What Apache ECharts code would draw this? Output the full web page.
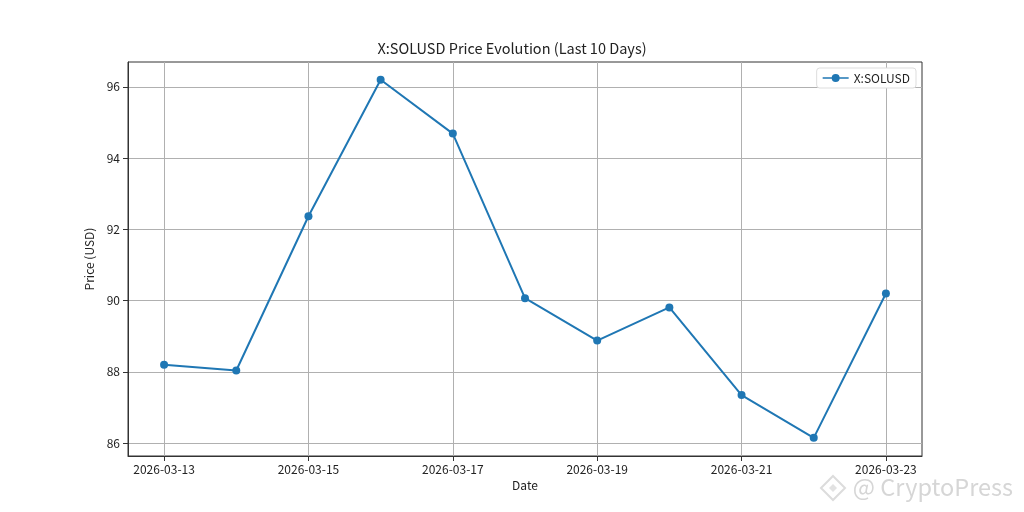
<!DOCTYPE html>
<html>
<head>
<meta charset="utf-8">
<script src="https://cdn.jsdelivr.net/npm/echarts@6/dist/echarts.min.js"></script>
<style>html,body{margin:0;padding:0;background:#fff}#c{width:1024px;height:512px}</style>
</head>
<body>
<div id="c"></div>
<script>
var dates = ['2026-03-13','2026-03-14','2026-03-15','2026-03-16','2026-03-17','2026-03-18','2026-03-19','2026-03-20','2026-03-21','2026-03-22','2026-03-23'];
var prices = [88.20, 88.04, 92.37, 96.20, 94.69, 90.07, 88.88, 89.81, 87.35, 86.15, 90.20];
var xTickDates = ['2026-03-13','2026-03-15','2026-03-17','2026-03-19','2026-03-21','2026-03-23'];
var yTicks = [86, 88, 90, 92, 94, 96];
var seriesName = 'X:SOLUSD';
var titleText = 'X:SOLUSD Price Evolution (Last 10 Days)';
var watermark = '@ CryptoPress';

var FONT = '"Noto Sans CJK SC", "Noto Sans", sans-serif';
var xTickIdx = xTickDates.map(function(d){ return dates.indexOf(d); });
var chart = echarts.init(document.getElementById('c'), null, {renderer:'canvas'});
chart.setOption({
  animation: false,
  backgroundColor: '#fff',
  textStyle: {fontFamily: FONT},
  title: {
    text: titleText, left: 'center', top: 36,
    textStyle: {fontFamily: FONT, fontSize: 14.5, fontWeight: 'normal', color: '#222'}
  },
  legend: {
    right: 108, top: 68, orient: 'vertical',
    backgroundColor: '#fff', borderColor: '#ddd', borderWidth: 1, borderRadius: 3,
    padding: [4, 6, 4, 6],
    itemWidth: 26, itemHeight: 8, itemGap: 6,
    textStyle: {fontFamily: FONT, fontSize: 12, color: '#222'},
    data: [{name: seriesName, icon: 'path://M0,3.2 L26,3.2 L26,4.8 L0,4.8 Z M17,4 A4,4 0 1 1 9,4 A4,4 0 1 1 17,4 Z'}]
  },
  grid: {left: 128, top: 62, right: 102, bottom: 56, show: true, borderColor: '#333', borderWidth: 1, backgroundColor: 'transparent'},
  xAxis: {
    type: 'value', min: -0.5, max: dates.length - 0.5,
    name: 'Date', nameLocation: 'middle', nameGap: 23,
    nameTextStyle: {fontFamily: FONT, fontSize: 12, color: '#222'},
    axisLine: {show: true, onZero: false, lineStyle: {color: '#333', width: 1}},
    axisTick: {show: true, inside: false, length: 5, lineStyle: {color: '#333'}, customValues: xTickIdx},
    axisLabel: {customValues: xTickIdx, fontFamily: FONT, fontSize: 12, color: '#222', margin: 7,
      formatter: function(v){ return dates[Math.round(v)] || ''; }},
    splitLine: {show: true, lineStyle: {color: '#b0b0b0', width: 1}}
  },
  yAxis: {
    type: 'value', min: 85.64, max: 96.70,
    name: 'Price (USD)', nameLocation: 'middle', nameGap: 29, nameRotate: 90,
    nameTextStyle: {fontFamily: FONT, fontSize: 12, color: '#222'},
    axisLine: {show: true, onZero: false, lineStyle: {color: '#333', width: 1}},
    axisTick: {show: true, inside: false, length: 5, lineStyle: {color: '#333'}, customValues: yTicks},
    axisLabel: {customValues: yTicks, fontFamily: FONT, fontSize: 12, color: '#222', margin: 8},
    splitLine: {show: true, lineStyle: {color: '#b0b0b0', width: 1}}
  },
  series: [{
    name: seriesName, type: 'line',
    data: prices.map(function(p, i){ return [i, p]; }),
    symbol: 'circle', symbolSize: 8, showSymbol: true,
    itemStyle: {color: '#1f77b4'},
    lineStyle: {color: '#1f77b4', width: 2}
  }],
  graphic: [{
    type: 'text', right: 11, bottom: 13,
    style: {text: watermark, fontFamily: FONT, fontSize: 23.5, fill: '#d6d6d6'}
  }, {
    type: 'polygon', silent: true,
    shape: {points: [[833, 476], [845, 488], [833, 500], [821, 488]]},
    style: {fill: 'none', stroke: '#dcdcdc', lineWidth: 2}
  }, {
    type: 'polygon', silent: true,
    shape: {points: [[833, 484], [837, 488], [833, 492], [829, 488]]},
    style: {fill: '#e2e2e2', stroke: 'none'}
  }]
});
</script>
</body>
</html>
